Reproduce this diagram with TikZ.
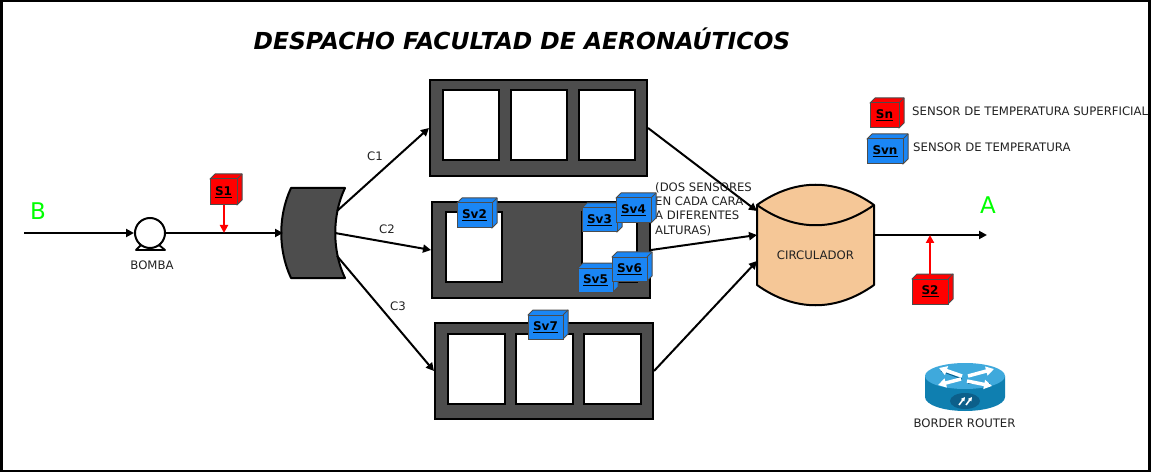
\documentclass[tikz,border=0pt]{standalone}
\usepackage{fontspec}
\setmainfont{DejaVu Sans}
\usetikzlibrary{arrows.meta,shapes.geometric}
\definecolor{roomgray}{HTML}{4D4D4D}
\definecolor{svblue}{HTML}{1A86F5}
\definecolor{circ}{HTML}{F5C797}
\definecolor{routertop}{HTML}{3FA9DC}
\definecolor{routerside}{HTML}{0F7FB0}
\definecolor{routerbadge}{HTML}{0C5F8A}
\definecolor{txt}{HTML}{222222}
\tikzset{
  room/.style={draw=black,line width=2pt,fill=roomgray,inner sep=0pt},
  win/.style={draw=black,line width=2pt,fill=white,inner sep=0pt},
  flow/.style={draw=black,line width=2pt,-{Triangle[length=8pt,width=8pt]}},
  probe/.style={draw=red,line width=2pt,-{Triangle[length=8pt,width=8pt]}},
  lbl/.style={font=\fontsize{11.7}{14}\selectfont,text=txt,inner sep=0pt},
  letter/.style={font=\fontsize{23}{25}\selectfont,text=green,inner sep=0pt},
  face/.style={draw=black!70,line width=1pt,inner sep=0pt,font=\bfseries\fontsize{12}{14}\selectfont,text=black},
  rarrow/.style={draw=white,line width=3.5pt,-{Triangle[length=8pt,width=9pt]}},
  rshadow/.style={draw=routerbadge,line width=1pt}
}
% name, left, top, right, bottom, colour, text
\newcommand{\sensorbox}[7]{%
  \fill[#6,draw=black!70,line width=1pt,line join=round] (#2,#3) -- (#2+5,#3-5) -- (#4+5,#3-5) -- (#4+5,#5-5) -- (#4,#5) -- cycle;
  \draw[black!70,line width=1pt] (#4,#3) -- (#4+5,#3-5);
  \node[face,fill=#6,minimum width=#4pt-#2pt,minimum height=#5pt-#3pt] (#1) at ({(#2+#4)/2},{(#3+#5)/2}) {\underbar{#7}};
}
\begin{document}
\begin{tikzpicture}[x=1pt,y=-1pt]
\useasboundingbox (0,0) rectangle (1154,473);
\fill[white] (0,0) rectangle (1154,473);
\draw[black,line width=2.5pt] (1.5,1) rectangle (1149.5,471);

\node[inner sep=0pt,font=\bfseries\itshape\fontsize{23.4}{28}\selectfont] (title) at (522,38.5) {DESPACHO FACULTAD DE AERONAÚTICOS};

% rooms
\node[room,minimum width=217pt,minimum height=96pt] (r1) at (538.5,128) {};
\foreach \c/\n in {471/a,539/b,606.5/c}
  \node[win,minimum width=56pt,minimum height=70pt] (r1\n) at (\c,125) {};
\node[room,minimum width=218pt,minimum height=96pt] (r2) at (541,250) {};
\node[win,minimum width=56pt,minimum height=70pt] (r2a) at (473.5,247) {};
\node[win,minimum width=55pt,minimum height=70pt] (r2b) at (609,247) {};
\node[room,minimum width=218pt,minimum height=96pt] (r3) at (544,371) {};
\foreach \c/\n in {476.5/a,544.5/b,612.5/c}
  \node[win,minimum width=57pt,minimum height=70pt] (r3\n) at (\c,369) {};

% separator
\draw[black,line width=2pt,fill=roomgray,line join=round] (291,188) -- (345,188)
  .. controls (332,215) and (332,251) .. (345,278) -- (291,278)
  .. controls (278,250) and (278,216) .. (291,188) -- cycle;
\coordinate (s1) at (337,211);
\coordinate (s2) at (335,233);
\coordinate (s3) at (337,256);
\coordinate (sin) at (283,233);

% pump
\node[draw=black,line width=2pt,fill=white,circle,minimum size=30pt,inner sep=0pt] (pump) at (150,233) {};
\draw[black,line width=1.8pt,line join=round] (141,245) -- (136,250) -- (165,250) -- (159,245);
\node[lbl] (bomba) at (152,265) {BOMBA};
\coordinate (bstart) at (24,233);
\draw[flow] (bstart) -- (pump.west);
\draw[flow] (pump.east) -- (sin);

% connections
\draw[flow] (s1) -- (r1.west);
\draw[flow] (s2) -- (r2.west);
\draw[flow] (s3) -- (r3.west);
\node[lbl] (c1) at (375,156) {C1};
\node[lbl] (c2) at (387,229) {C2};
\node[lbl] (c3) at (398,306) {C3};

% circulator
\draw[black,line width=2pt,fill=circ,line join=round] (757,205)
  .. controls (795,178) and (836,178) .. (874,205) -- (874,285)
  .. controls (836,312) and (795,312) .. (757,285) -- cycle;
\draw[black,line width=2pt] (757,205) .. controls (795,232) and (836,232) .. (874,205);
\node[lbl] (circtext) at (815.5,255) {CIRCULADOR};
\coordinate (cin1) at (757,211);
\coordinate (cin2) at (757,235);
\coordinate (cin3) at (757,261);
\coordinate (cout) at (874,235);
\coordinate (aend) at (987,235);
\draw[flow] (r1.east) -- (cin1);
\draw[flow] (r2.east) -- (cin2);
\draw[flow] (r3.east) -- (cin3);
\draw[flow] (cout) -- (aend);

\node[letter] (B) at (38,211) {B};
\node[letter] (A) at (988,205) {A};

% note
\node[lbl,align=left,anchor=north west,font=\fontsize{11.65}{14.4}\selectfont] (note) at (655,182) {(DOS SENSORES\\EN CADA CARA\\A DIFERENTES\\ALTURAS)};

% sensors
\sensorbox{S1}{210}{179}{237}{205}{red}{S1}
\sensorbox{S2}{912}{279}{948}{304}{red}{S2}
\sensorbox{Sv2}{457}{203}{492}{228}{svblue}{Sv2}
\sensorbox{Sv3}{582}{208}{617}{232}{svblue}{Sv3}
\sensorbox{Sv4}{616}{198}{651}{223}{svblue}{Sv4}
\sensorbox{Sv5}{578}{268}{613}{292}{svblue}{Sv5}
\sensorbox{Sv6}{612}{257}{647}{281}{svblue}{Sv6}
\sensorbox{Sv7}{528}{315}{563}{339}{svblue}{Sv7}
\sensorbox{Sn}{870}{103}{899}{128}{red}{Sn}
\sensorbox{Svn}{867}{139}{903}{164}{svblue}{Svn}
\coordinate (p1) at (224,233);
\coordinate (p2) at (930,235);
\draw[probe] (S1.south -| p1) -- (p1);
\draw[probe] (S2.north -| p2) -- (p2);

% legend
\node[lbl,anchor=west] (l1) at (912,111) {SENSOR DE TEMPERATURA SUPERFICIAL};
\node[lbl,anchor=west] (l2) at (913,147) {SENSOR DE TEMPERATURA};

% router
\fill[routerside] (925,376) -- (925,397) arc[start angle=180,end angle=0,x radius=40,y radius=14] -- (1005,376) -- cycle;
\fill[routertop] (965,376) ellipse[x radius=40,y radius=13];
\fill[routerbadge] (965,401) ellipse[x radius=15,y radius=8];
\draw[rshadow] (941,371) -- (962,379);
\draw[rshadow] (968,383) -- (990,383);
\draw[rarrow] (962,376) -- (939,368);
\draw[rarrow] (968,376) -- (994,369);
\draw[rarrow] (961,379) -- (938,385);
\draw[rarrow] (967,381) -- (992,386);
\draw[white,line width=1.6pt,-{Triangle[length=4pt,width=4pt]}] (959,405) -- (965,397);
\draw[white,line width=1.6pt,-{Triangle[length=4pt,width=4pt]}] (966,405) -- (972,397);
\node[lbl] (router) at (964.5,423) {BORDER ROUTER};
\end{tikzpicture}
\end{document}
